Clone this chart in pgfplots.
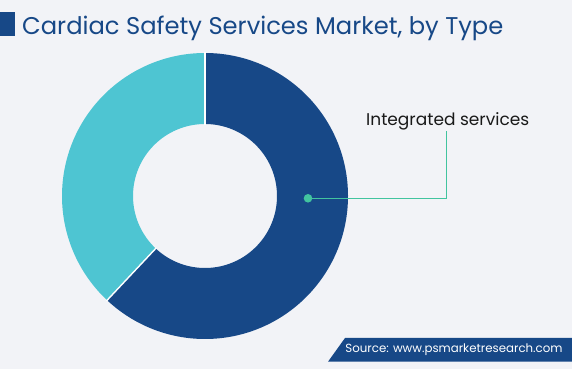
\documentclass[border=0pt]{standalone}
\usepackage{pgfplots}
\pgfplotsset{compat=1.18}
\usepackage{pgfplotstable}
\usepackage{fontspec}
\setmainfont{Poppins}
\definecolor{bg}{HTML}{F2F3F7}
\definecolor{dblue}{HTML}{174887}
\definecolor{cyanb}{HTML}{4EC5D2}
\definecolor{lgreen}{HTML}{42C49F}
\pgfplotstableread{
type share
Integrated 62
Standalone 38
}\shares
\begin{document}
\begin{tikzpicture}
\pgfplotstablegetelem{0}{share}\of\shares \let\sa\pgfplotsretval
\pgfplotstablegetelem{1}{share}\of\shares \let\sb\pgfplotsretval
\pgfmathsetmacro{\aend}{90-3.6*\sa}
\begin{axis}[hide axis, scale only axis, width=572pt, height=369pt,
  xmin=0, xmax=572, ymin=0, ymax=369, clip=false]
\fill[bg] (axis cs:0,0) rectangle (axis cs:572,369);
% donut
\fill[dblue] (axis cs:205,173) ++(90:143pt) arc[start angle=90, end angle=\aend, radius=143pt]
  -- ++(\aend+180:71pt) arc[start angle=\aend, end angle=90, radius=72pt] -- cycle;
\fill[cyanb] (axis cs:205,173) ++(\aend:143pt) arc[start angle=\aend, end angle=-270, radius=143pt]
  -- ++(-90:71pt) arc[start angle=-270, end angle=\aend, radius=72pt] -- cycle;
\draw[white, line width=1.4pt] (axis cs:205,173) ++(90:71pt) -- ++(90:73pt);
\draw[white, line width=1.4pt] (axis cs:205,173) ++(\aend:71pt) -- ++(\aend:73pt);
% leader
\draw[lgreen, line width=1pt] (axis cs:308,170.7) -- (axis cs:446,170.7) -- (axis cs:446,238.3);
\fill[lgreen] (axis cs:308,170.7) circle[radius=4.3pt];
\node[anchor=base west, inner sep=0pt, font=\fontsize{17}{20}\selectfont, text=black!90]
  at (axis cs:366,243.3) {Integrated services};
% title
\fill[dblue] (axis cs:0,332.5) rectangle (axis cs:15,356.5);
\node[anchor=base west, inner sep=0pt, text=dblue, font=\fontsize{24.2}{28}\selectfont]
  at (axis cs:22,334) {Cardiac Safety Services Market, by Type};
% source
\fill[dblue] (axis cs:328,7.3) -- (axis cs:345,31) -- (axis cs:572,31) -- (axis cs:572,7.3) -- cycle;
\node[anchor=center, inner sep=0pt, text=white, font=\fontsize{11.8}{14}\selectfont]
  at (axis cs:454,19) {Source: www.psmarketresearch.com};
\end{axis}
\end{tikzpicture}
\end{document}
